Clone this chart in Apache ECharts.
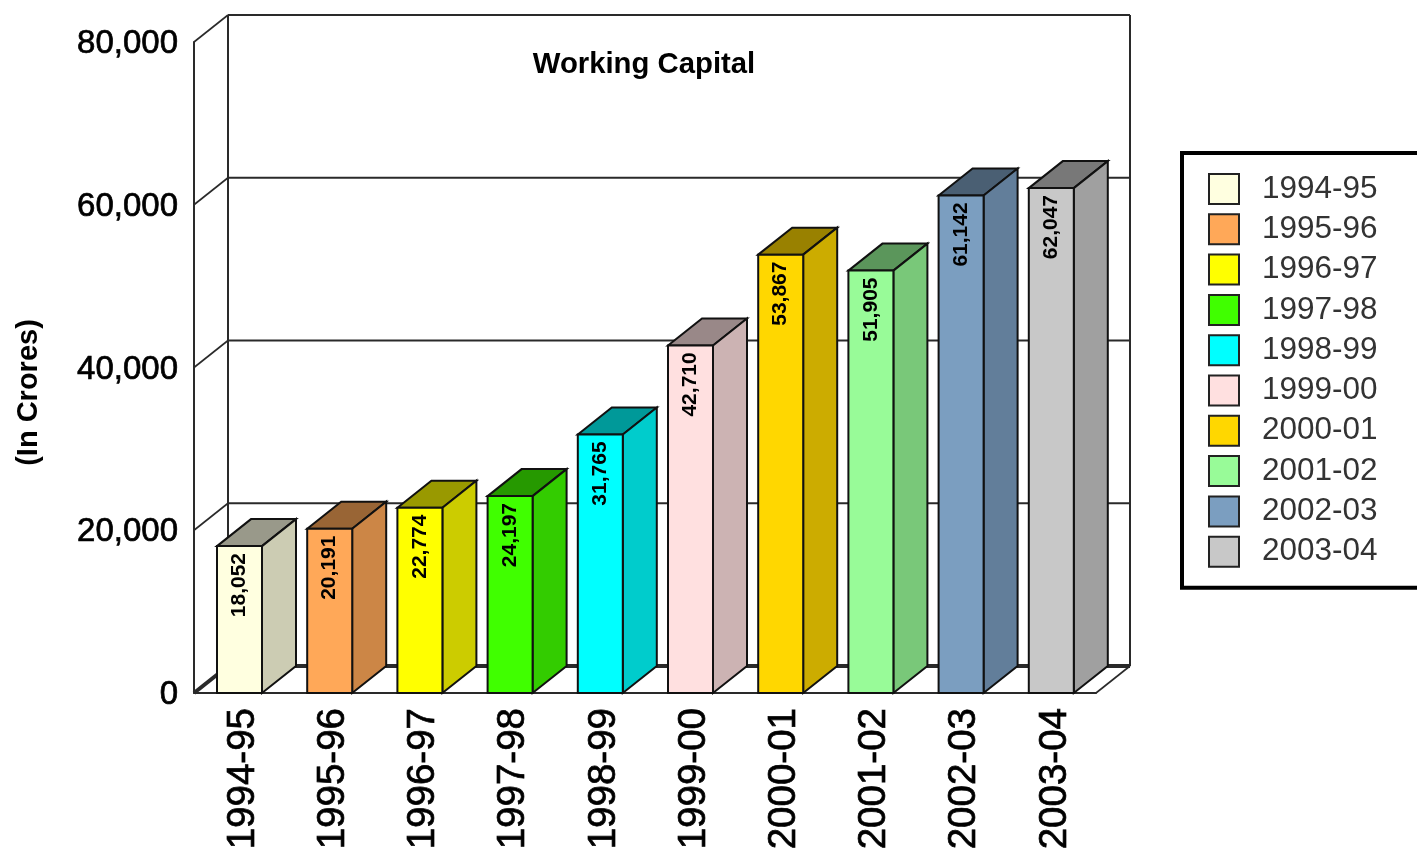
<!DOCTYPE html>
<html><head><meta charset="utf-8">
<style>html,body{margin:0;padding:0;background:#fff;overflow:hidden}#c{width:1417px;height:851px}</style>
<script src="https://cdn.jsdelivr.net/npm/echarts@6/dist/echarts.min.js"></script>
</head><body><div id="c"></div>
<script>
var categories = ['1994-95','1995-96','1996-97','1997-98','1998-99','1999-00','2000-01','2001-02','2002-03','2003-04'];
var values = [18052,20191,22774,24197,31765,42710,53867,51905,61142,62047];
var frontColors = ['#FFFFE0','#FFA858','#FFFF00','#40FF00','#00FFFF','#FFE0E0','#FFD700','#98FB98','#7B9EC0','#C8C8C8'];
var sideColors = ['#CCCCB3','#CC8646','#CCCC00','#33CC00','#00CCCC','#CCB3B3','#CCAC00','#79C879','#627E9A','#A0A0A0'];
var topColors = ['#99998A','#996535','#999900','#269900','#009999','#998888','#998100','#5B965B','#4A5F73','#787878'];
var yTicks = [0,20000,40000,60000,80000];
var DX = 34, DY = -27, FONT = '"Liberation Sans", Arial, sans-serif', INK = '#2a2a2a';

function line(x1,y1,x2,y2,w){
  return {type:'line',shape:{x1:x1,y1:y1,x2:x2,y2:y2},style:{stroke:INK,lineWidth:w||2}};
}
function renderWall(params, api){
  var cs = params.coordSys, t = api.value(1), y = api.coord([0,t])[1];
  var x0 = cs.x, x1 = cs.x + cs.width, kids = [];
  kids.push(line(x0+DX,y+DY,x1+DX,y+DY,t===0?4:2));
  kids.push(line(x0,y,x0+DX,y+DY,t===0?4:1.6));
  if(t===0){
    var yt = api.coord([0,yTicks[yTicks.length-1]])[1];
    kids.push(line(x0+DX,y+DY,x0+DX,yt+DY));
    kids.push(line(x1+DX,y+DY,x1+DX,yt+DY));
    kids.push(line(x1,y,x1+DX,y+DY,1.6));
  }
  return {type:'group',children:kids};
}
function barRender(idx){
  return function(params, api){
    var w = 45, p0 = api.coord([api.value(0),0]), p1 = api.coord([api.value(0),api.value(1)]);
    var cx = p0[0]+0.4, l = cx-w/2, r = cx+w/2, b = p0[1], t = p1[1];
    var st = {stroke:'#111',lineWidth:2,lineJoin:'miter'};
    function poly(pts,fill){return {type:'polygon',shape:{points:pts},style:Object.assign({fill:fill},st)};}
    return {type:'group',children:[
      poly([[l,t],[l+DX,t+DY],[r+DX,t+DY],[r,t]],topColors[idx]),
      poly([[r,t],[r+DX,t+DY],[r+DX,b+DY],[r,b]],sideColors[idx]),
      poly([[l,t],[r,t],[r,b],[l,b]],frontColors[idx]),
      {type:'text',x:cx,y:t+39,rotation:Math.PI/2,
       style:{text:api.value(1).toLocaleString('en-US'),font:'bold 21px '+FONT,fill:'#000',align:'center',verticalAlign:'middle'}}
    ]};
  };
}
var series = [{name:'walls',type:'custom',silent:true,z:1,renderItem:renderWall,clip:false,
  data:yTicks.map(function(t){return [0,t];}),encode:{x:0,y:1}}];
categories.forEach(function(c,i){
  series.push({name:c,type:'custom',z:2,clip:false,renderItem:barRender(i),
    itemStyle:{color:frontColors[i]},encode:{x:0,y:1},data:[[i,values[i]]]});
});
var chart = echarts.init(document.getElementById('c'),null,{renderer:'canvas'});
chart.setOption({
  animation:false,
  backgroundColor:'#fff',
  title:{text:'Working Capital',left:639,top:45,textAlign:'center',
    textStyle:{fontFamily:FONT,fontWeight:'bold',fontSize:29.3,color:'#000'}},
  grid:{left:194,right:321,top:42,bottom:158,containLabel:false,outerBoundsMode:'none'},
  xAxis:{type:'category',data:categories,axisTick:{show:false},
    axisLine:{show:true,lineStyle:{color:INK,width:2}},
    axisLabel:{rotate:90,interval:0,margin:15,fontFamily:FONT,fontSize:38.5,color:'#000',textBorderColor:'#000',textBorderWidth:0.7,verticalAlign:'top',lineHeight:8}},
  yAxis:{type:'value',min:0,max:80000,interval:20000,splitLine:{show:false},axisTick:{show:false},
    axisLine:{show:true,lineStyle:{color:INK,width:2}},
    axisLabel:{margin:16,fontFamily:FONT,fontSize:33,color:'#000',textBorderColor:'#000',textBorderWidth:0.7,verticalAlign:'top',lineHeight:4,
      formatter:function(v){return v.toLocaleString('en-US');}},
    name:'(In Crores)',nameLocation:'middle',nameGap:151,nameRotate:90,
    nameTextStyle:{fontFamily:FONT,fontWeight:'bold',fontSize:29,color:'#000',padding:[0,50,0,0]}},
  legend:{data:categories,orient:'vertical',left:1182,top:153,icon:'rect',
    itemWidth:30,itemHeight:30,itemGap:8.3,padding:[20,100,20,26],selectedMode:false,
    borderColor:'#000',borderWidth:4,backgroundColor:'#fff',
    itemStyle:{borderColor:'#222',borderWidth:2},
    textStyle:{fontFamily:FONT,fontSize:31.5,color:'#333',lineHeight:30,padding:[0,0,0,18]}},
  series:series
});
</script></body></html>
